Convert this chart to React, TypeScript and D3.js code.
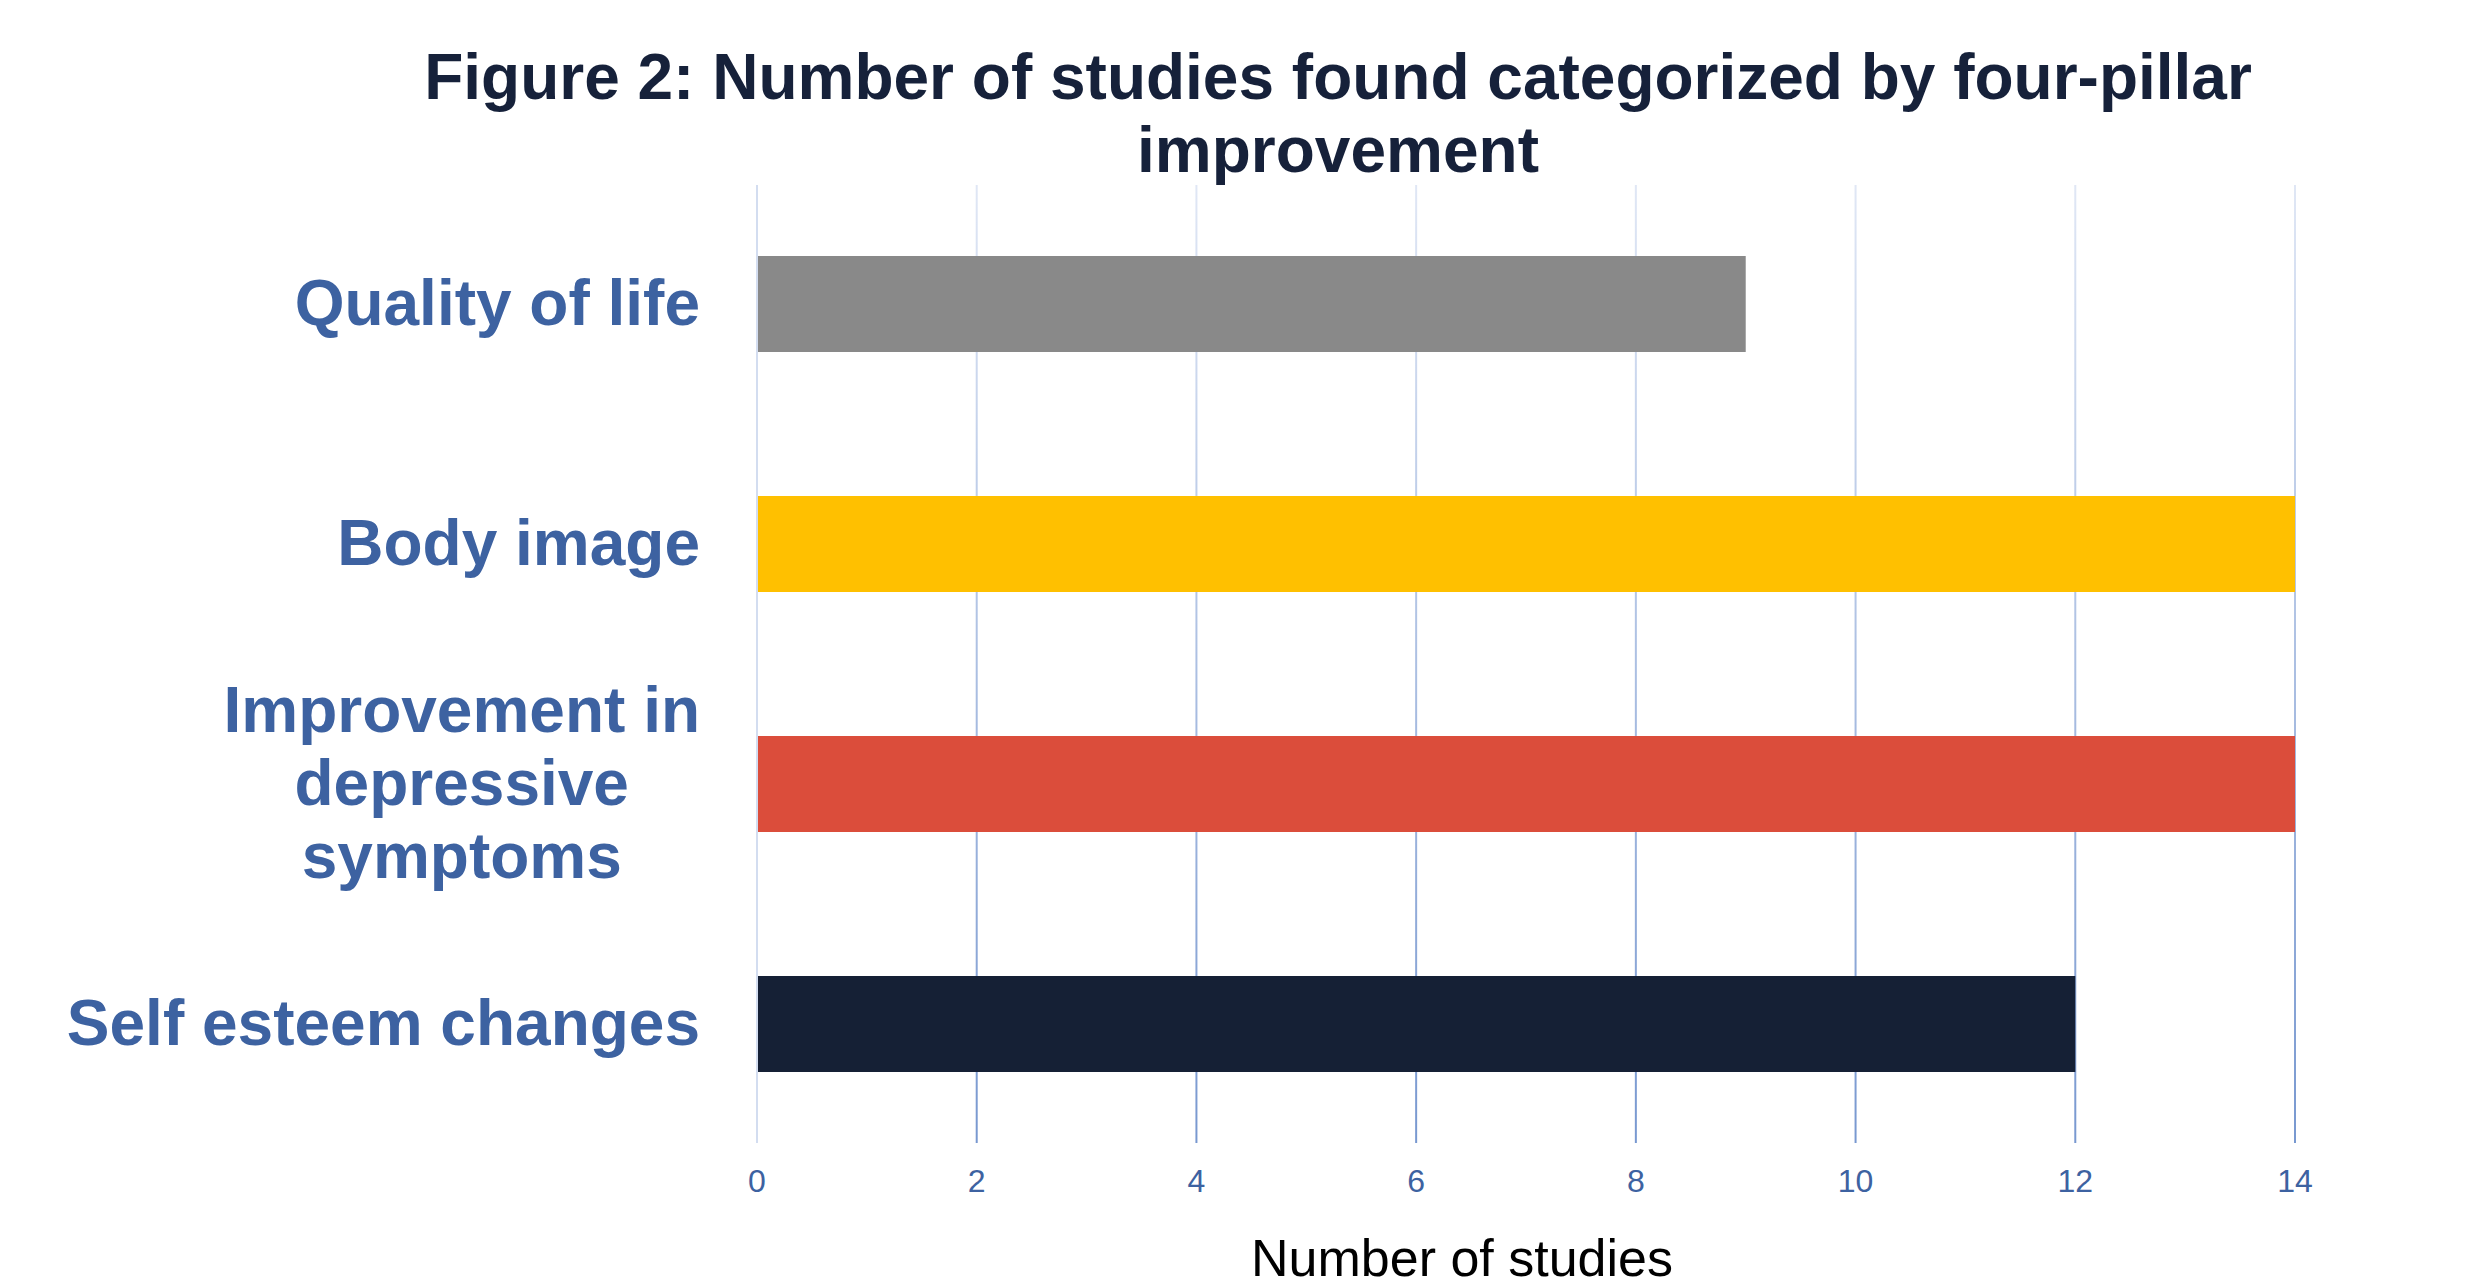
import React from "react";
import * as d3 from "d3";

const categories = ["Quality of life", "Body image", "Improvement in depressive symptoms", "Self esteem changes"];
const categoryLines = [["Quality of life"], ["Body image"], ["Improvement in", "depressive", "symptoms"], ["Self esteem changes"]];
const values = [9, 14, 14, 12];
const barColors = ["#898989", "#ffc000", "#db4d3b", "#152035"];
const xTicks = [0, 2, 4, 6, 8, 10, 12, 14];
const titleLines = ["Figure 2: Number of studies found categorized by four-pillar", "improvement"];
const xAxisTitle = "Number of studies";

if (typeof document !== "undefined") {
  document.body.style.margin = "0";
}

const FONT = "'Liberation Sans', Arial, Helvetica, sans-serif";

function measure(text: string, font: string): number {
  const c = document.createElement("canvas");
  const ctx = c.getContext("2d");
  if (!ctx) return text.length * 30;
  ctx.font = font;
  return ctx.measureText(text).width;
}

export default function App() {
  const W = 2481;
  const H = 1287;
  const left = 757;
  const right = 2295;
  const top = 184;
  const bottom = 1144;

  const x = d3.scaleLinear().domain([0, 14]).range([left, right]);
  const y = d3
    .scaleBand<string>()
    .domain(categories)
    .range([top, bottom])
    .paddingInner(0.6)
    .paddingOuter(0.3);

  const labelSize = 64;
  const labelRight = 700;
  const lineH = 73;

  return (
    <svg width={W} height={H} style={{ display: "block", background: "#ffffff" }} fontFamily={FONT}>
      <defs>
        <linearGradient id="gridGrad" gradientUnits="userSpaceOnUse" x1="0" y1={top} x2="0" y2={bottom}>
          <stop offset="0%" stopColor="#e0e7f5" />
          <stop offset="100%" stopColor="#7898d0" />
        </linearGradient>
      </defs>
      <rect x={0} y={0} width={W} height={H} fill="#ffffff" />

      {/* Title */}
      <text textAnchor="middle" fontWeight="bold" fontSize={64} fill="#16213a">
        {titleLines.map((t, i) => (
          <tspan key={i} x={1338} y={99 + i * 73}>
            {t}
          </tspan>
        ))}
      </text>

      {/* Grid lines */}
      {xTicks.map((t) => (
        <line
          key={t}
          x1={x(t)}
          x2={x(t)}
          y1={top + 1}
          y2={bottom - 1}
          stroke={t === 0 ? "#d3ddf0" : "url(#gridGrad)"}
          strokeWidth={2}
        />
      ))}

      {/* Bars */}
      {categories.map((c, i) => (
        <rect
          key={c}
          x={x(0) + 1}
          y={y(c)}
          width={x(values[i]) - x(0) - 1}
          height={y.bandwidth()}
          fill={barColors[i]}
        />
      ))}

      {/* Category labels */}
      {categories.map((c, i) => {
        const lines = categoryLines[i];
        const cy = (y(c) as number) + y.bandwidth() / 2 + 20.5;
        if (lines.length === 1) {
          return (
            <text key={c} x={labelRight} y={cy} textAnchor="end" fontWeight="bold" fontSize={labelSize} fill="#3d62a1">
              {lines[0]}
            </text>
          );
        }
        const font = `bold ${labelSize}px ${FONT}`;
        const maxW = Math.max(...lines.map((l) => measure(l, font)));
        const cx = labelRight - maxW / 2;
        const start = cy - ((lines.length - 1) / 2) * lineH;
        return (
          <text key={c} textAnchor="middle" fontWeight="bold" fontSize={labelSize} fill="#3d62a1">
            {lines.map((l, j) => (
              <tspan key={j} x={cx} y={start + j * lineH}>
                {l}
              </tspan>
            ))}
          </text>
        );
      })}

      {/* Tick labels */}
      {xTicks.map((t) => (
        <text key={t} x={x(t)} y={1192} textAnchor="middle" fontSize={32} fill="#3d62a1">
          {t}
        </text>
      ))}

      {/* Axis title */}
      <text x={1462} y={1276} textAnchor="middle" fontSize={52} fill="#000000">
        {xAxisTitle}
      </text>
    </svg>
  );
}
